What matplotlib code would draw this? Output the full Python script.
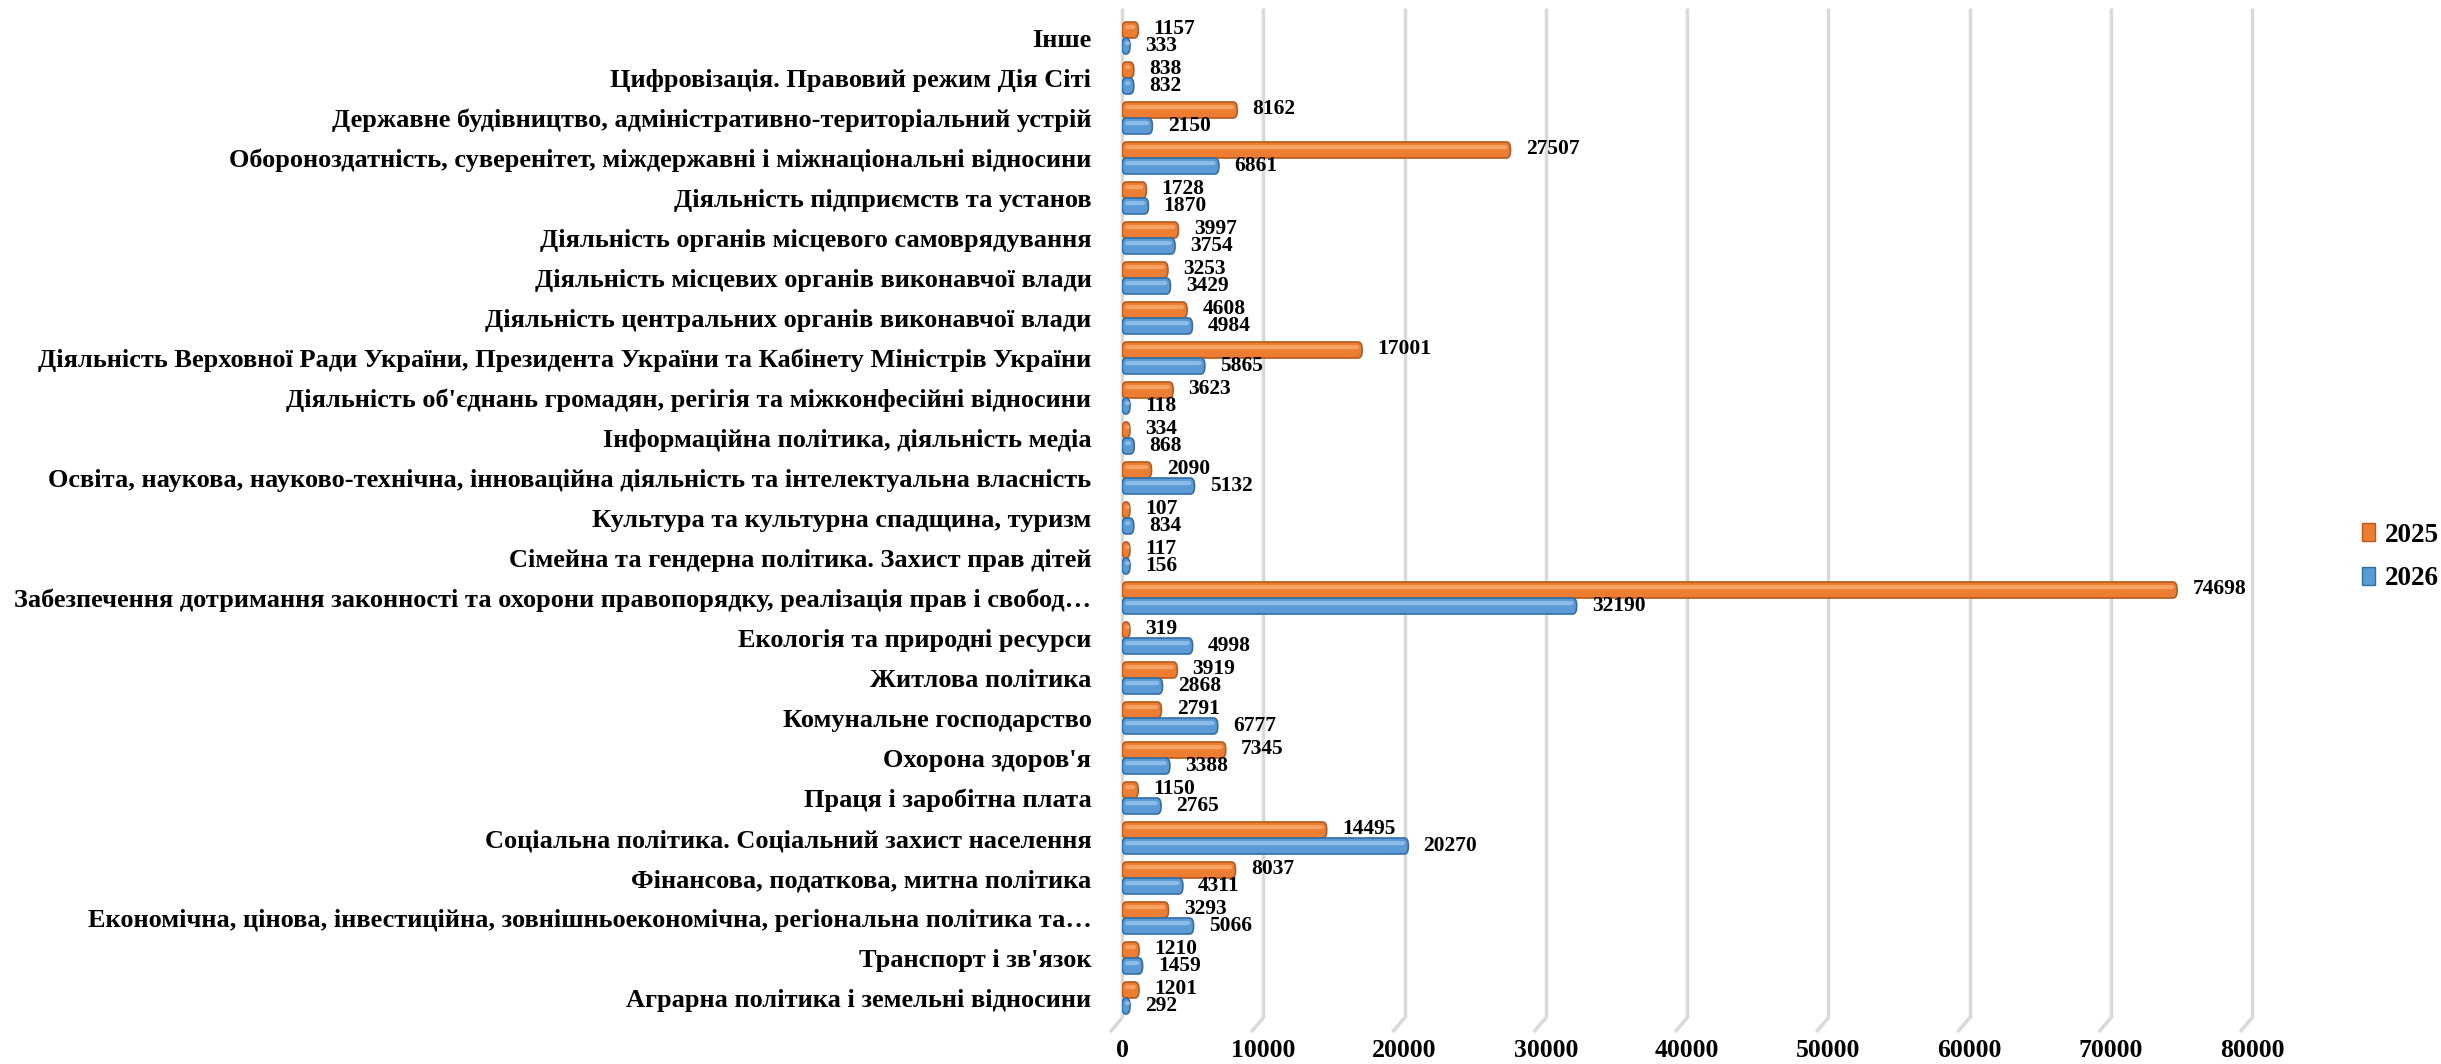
import matplotlib
matplotlib.use("Agg")
import matplotlib.pyplot as plt
from matplotlib.patches import FancyBboxPatch, Patch
import numpy as np

# ---- data (bottom to top) ----
categories = [
    "Аграрна політика і земельні відносини",
    "Транспорт і зв'язок",
    "Економічна, цінова, інвестиційна, зовнішньоекономічна, регіональна політика та…",
    "Фінансова, податкова, митна політика",
    "Соціальна політика. Соціальний захист населення",
    "Праця і заробітна плата",
    "Охорона здоров'я",
    "Комунальне господарство",
    "Житлова політика",
    "Екологія та природні ресурси",
    "Забезпечення дотримання законності та охорони правопорядку, реалізація прав і свобод…",
    "Сімейна та гендерна політика. Захист прав дітей",
    "Культура та культурна спадщина, туризм",
    "Освіта, наукова, науково-технічна, інноваційна діяльність та інтелектуальна власність",
    "Інформаційна політика, діяльність медіа",
    "Діяльність об'єднань громадян, регігія та міжконфесійні відносини",
    "Діяльність Верховної Ради України, Президента України та Кабінету Міністрів України",
    "Діяльність центральних органів виконавчої влади",
    "Діяльність місцевих органів виконавчої влади",
    "Діяльність органів місцевого самоврядування",
    "Діяльність підприємств та установ",
    "Обороноздатність, суверенітет, міждержавні і міжнаціональні відносини",
    "Державне будівництво, адміністративно-територіальний устрій",
    "Цифровізація. Правовий режим Дія Сіті",
    "Інше",
]
values_2025 = [1201, 1210, 3293, 8037, 14495, 1150, 7345, 2791, 3919, 319,
               74698, 117, 107, 2090, 334, 3623, 17001, 4608, 3253, 3997,
               1728, 27507, 8162, 838, 1157]
values_2026 = [292, 1459, 5066, 4311, 20270, 2765, 3388, 6777, 2868, 4998,
               32190, 156, 834, 5132, 868, 118, 5865, 4984, 3429, 3754,
               1870, 6861, 2150, 832, 333]
series_names = ["2025", "2026"]
x_ticks = [0, 10000, 20000, 30000, 40000, 50000, 60000, 70000, 80000]

plt.rcParams['font.family'] = ['Liberation Serif', 'DejaVu Serif']
plt.rcParams['font.weight'] = 'bold'

W, H = 2441, 1064
AX_L, AX_R, AX_T, AX_B = 1122, 2252, 18, 1018
fig = plt.figure(figsize=(W / 100, H / 100), dpi=100)
ax = fig.add_axes([AX_L / W, 1 - AX_B / H, (AX_R - AX_L) / W, (AX_B - AX_T) / H])

y = np.arange(len(categories))
bh = 0.40
off = 0.20
col25, edge25 = '#ED7D31', '#B85A1A'
col26, edge26 = '#5B9BD5', '#2F6EA8'
hl25, hl26 = '#F7B27E', '#A2CBEE'
grid_col = '#D9D9D9'

b25 = ax.barh(y + off, values_2025, height=bh, color=col25)
b26 = ax.barh(y - off, values_2026, height=bh, color=col26)

ax.set_xlim(x_ticks[0], x_ticks[-1])
ax.set_ylim(-0.5, len(categories) - 0.5)

# pixel -> data conversions
xpp = (x_ticks[-1] - x_ticks[0]) / (AX_R - AX_L)
ypp = len(categories) / (AX_B - AX_T)
rx = 4 * xpp
ry = 7.5 * ypp
aspect = ry / rx

def rounded(rect, face, edge, hl):
    x0, y0, w, h = rect.get_x(), rect.get_y(), rect.get_width(), rect.get_height()
    rect.set_visible(False)
    iw = max(w - 2 * rx, 0.0)
    p = FancyBboxPatch((x0 + rx, y0 + ry), iw, max(h - 2 * ry, 1e-4),
                       boxstyle=f"round,pad={rx},rounding_size={rx}",
                       mutation_aspect=aspect, facecolor=face, edgecolor=edge,
                       linewidth=1.2, zorder=3)
    ax.add_patch(p)
    # highlight strip
    hh = h * 0.26
    hy = y0 + h * 0.55
    rx2 = rx * 0.6
    q = FancyBboxPatch((x0 + rx * 0.8 + rx2, hy + hh / 2), max(iw + 0.4 * rx - 2 * rx2, 0.0), 1e-4,
                       boxstyle=f"round,pad={rx2},rounding_size={rx2}",
                       mutation_aspect=(hh / 2) / rx2, facecolor=hl, edgecolor='none',
                       alpha=0.7, zorder=4)
    ax.add_patch(q)
    return max(w, 2 * rx)

for rect, v, yc in zip(b25.patches, values_2025, y + off):
    end = rounded(rect, col25, edge25, hl25)
    ax.annotate(f"{v}", xy=(end, yc), xytext=(11, 1), textcoords='offset points',
                va='center', ha='left', fontsize=15.5, fontweight='bold', zorder=5)
for rect, v, yc in zip(b26.patches, values_2026, y - off):
    end = rounded(rect, col26, edge26, hl26)
    ax.annotate(f"{v}", xy=(end, yc), xytext=(11, 0), textcoords='offset points',
                va='center', ha='left', fontsize=15.5, fontweight='bold', zorder=5)

# vertical gridlines (back wall, slightly taller than plot area) + 3D floor slant
top = len(categories) - 0.5 + 10 * ypp
ax.vlines(x_ticks, -0.5, top, colors=grid_col, linewidth=2.5, zorder=0, clip_on=False)
dx, dy = 12 * xpp, 14 * ypp
for t in x_ticks:
    ax.plot([t, t - dx], [-0.5, -0.5 - dy], color=grid_col, linewidth=2.5,
            clip_on=False, zorder=0, solid_capstyle='butt')

ax.set_xticks(x_ticks)
ax.set_xticklabels([str(t) for t in x_ticks], fontsize=18.5, fontweight='bold')
ax.set_yticks(y)
ax.set_yticklabels(categories, fontsize=19, fontweight='bold')
ax.tick_params(axis='both', length=0)
ax.tick_params(axis='x', pad=15)
ax.tick_params(axis='y', pad=22)
for s in ax.spines.values():
    s.set_visible(False)

handles = [Patch(facecolor=col25, edgecolor=edge25, label=series_names[0]),
           Patch(facecolor=col26, edgecolor=edge26, label=series_names[1])]
fig.legend(handles=handles, loc='center left', bbox_to_anchor=(2348 / W, 1 - 557 / H),
           frameon=False, fontsize=19.5, handlelength=0.5, handleheight=0.6,
           handletextpad=0.35, labelspacing=0.7, borderpad=0)

fig.savefig("out.png", dpi=100)
